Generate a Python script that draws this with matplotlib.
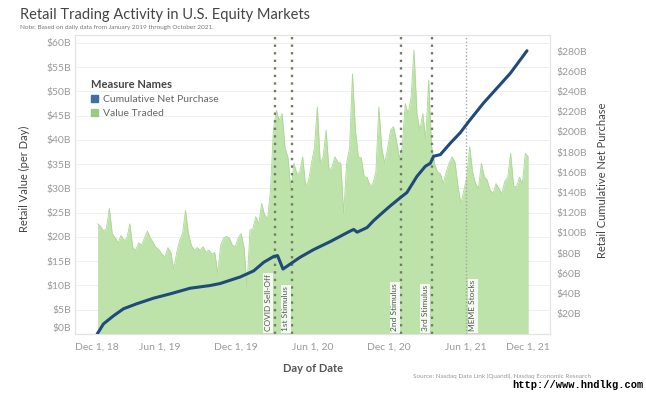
import numpy as np
import pandas as pd
import matplotlib
matplotlib.use('Agg')
import matplotlib.pyplot as plt
from matplotlib.patches import Patch
from matplotlib.transforms import ScaledTranslation

plt.rcParams['font.family'] = ['Lato', 'DejaVu Sans']

# weekly retail value traded, $B per day
value_traded = [
    22.7, 22.2, 21.2, 21.7, 25.9, 20.7, 19.8, 18.8, 20.3, 19.3,
    19.8, 22.7, 17.8, 17.3, 18.8, 18.3, 19.8, 21.2, 19.8, 18.8,
    17.8, 17.3, 16.4, 15.9, 17.8, 16.8, 13.4, 16.8, 19.3, 20.7,
    25.5, 20.7, 18.3, 17.3, 17.8, 17.3, 18.0, 16.8, 17.3, 16.4,
    16.8, 12.5, 18.3, 19.8, 20.1, 19.8, 18.3, 18.0, 19.8, 20.7,
    17.8, 9.8, 21.4, 21.7, 24.2, 22.7, 26.9, 24.6, 23.7, 29.5,
    42.0, 46.1, 44.0, 45.4, 38.3, 36.3, 29.5, 35.2, 33.0, 33.4,
    36.5, 30.5, 31.5, 35.2, 38.3, 46.8, 35.2, 36.5, 42.0, 33.7,
    34.4, 36.5, 35.4, 35.2, 24.8, 35.2, 38.3, 53.6, 42.0, 36.5,
    36.3, 32.4, 32.3, 30.5, 31.0, 33.4, 46.8, 38.3, 35.2, 38.3,
    42.0, 42.7, 39.9, 36.3, 38.6, 47.5, 45.4, 48.8, 58.5, 45.4,
    42.0, 45.4, 40.2, 52.3, 38.6, 35.2, 33.4, 33.0, 31.0, 33.4,
    35.2, 36.5, 35.4, 30.5, 26.9, 29.5, 32.3, 38.6, 33.4, 31.0,
    30.0, 35.2, 32.4, 31.7, 29.6, 29.0, 31.0, 30.0, 28.9, 31.5,
    32.3, 37.2, 30.5, 30.3, 32.3, 31.0, 37.2, 36.5,
]
weeks = pd.date_range('2019-01-04', periods=len(value_traded), freq='7D')

# cumulative net purchase, $B
cum_dates = pd.to_datetime([
    '2019-01-03', '2019-01-18', '2019-02-11', '2019-03-07', '2019-04-08',
    '2019-05-18', '2019-06-26', '2019-08-13', '2019-09-30', '2019-10-24',
    '2019-12-11', '2020-01-12', '2020-02-05', '2020-02-29', '2020-03-09',
    '2020-03-22', '2020-04-09', '2020-05-02', '2020-06-03', '2020-07-13',
    '2020-08-30', '2020-09-07', '2020-09-15', '2020-10-09', '2020-10-24',
    '2020-11-09', '2020-12-03', '2020-12-29', '2021-01-12', '2021-02-05',
    '2021-02-25', '2021-03-09', '2021-03-17', '2021-04-02', '2021-04-26',
    '2021-05-19', '2021-06-12', '2021-07-14', '2021-08-15', '2021-09-16',
    '2021-10-26',
])
cum_net = [
    0, 10, 18, 25, 30, 35.5, 39.7, 45.3, 48, 50,
    56.5, 62.5, 71, 76.8, 77.6, 64.3, 69.5, 76, 83.5, 91.5,
    102, 103.5, 100.8, 105.4, 112, 118, 126.7, 135.5, 140, 156,
    166, 169, 176, 177.6, 189, 199, 212, 228.6, 243.3, 258,
    280.4,
]

events = ['COVID Sell-Off', '1st Stimulus', '2nd Stimulus', '3rd Stimulus', 'MEME Stocks']
event_dates = pd.to_datetime(['2020-03-02', '2020-04-13', '2020-12-29', '2021-03-12', '2021-06-02'])

tick_dates = pd.to_datetime(['2018-12-01', '2019-06-01', '2019-12-01', '2020-06-01',
                             '2020-12-01', '2021-06-01', '2021-12-01'])
tick_labels = ['Dec 1, 18', 'Jun 1, 19', 'Dec 1, 19', 'Jun 1, 20',
               'Dec 1, 20', 'Jun 1, 21', 'Dec 1, 21']

left_ticks = list(range(0, 61, 5))
right_ticks = list(range(20, 281, 20))

green = '#bde2aa'
blue = '#1f4b7a'
grey_txt = '#9a9a9a'

fig = plt.figure(figsize=(6.46, 3.95), dpi=100)
ax = fig.add_axes([75 / 646, 1 - 334 / 395, 475 / 646, 299 / 395])

ax.fill_between(weeks, value_traded, 0, color=green, lw=0)
ax.plot(weeks, value_traded, color='#acd894', lw=0.6)
ax.set_xlim(pd.Timestamp('2018-11-11'), pd.Timestamp('2021-12-20'))
ax.set_ylim(0, 61.6)
ax.set_yticks(left_ticks)
ax.set_yticklabels([f'${v}B' for v in left_ticks])
ax.set_xticks(tick_dates)
ax.set_xticklabels(tick_labels)
ax.grid(axis='y', color='#efefef', lw=0.7)
ax.set_axisbelow(True)
ax.tick_params(length=0, labelsize=7.5, labelcolor=grey_txt)
ax.tick_params(axis='x', pad=6)
ax.tick_params(axis='y', pad=3)

# tableau keeps edge labels inside the pane
xl = ax.get_xticklabels()
xl[0].set_transform(xl[0].get_transform() + ScaledTranslation(14 / 100, 0, fig.dpi_scale_trans))
xl[-1].set_transform(xl[-1].get_transform() + ScaledTranslation(-14 / 100, 0, fig.dpi_scale_trans))
yl = ax.get_yticklabels()
yl[0].set_transform(yl[0].get_transform() + ScaledTranslation(0, 6 / 100, fig.dpi_scale_trans))

for name, d in zip(events, event_dates):
    if name == 'MEME Stocks':
        ax.axvline(d, color='#a8a8a8', lw=1.0, ls=(0, (1, 1.5)))
        dx = 5
    else:
        ax.axvline(d, color='#6f7d66', lw=1.7, ls=(0, (1, 2.2)))
        dx = -4.5
    ax.annotate(name, xy=(d, 0), xycoords=('data', 'axes fraction'),
                xytext=(dx, 2), textcoords='offset points', rotation=90,
                ha='center', va='bottom', fontsize=6, color='#555555',
                bbox=dict(fc='white', ec='none', alpha=0.85, pad=1))

ax2 = ax.twinx()
ax2.plot(cum_dates, cum_net, color=blue, lw=2.2, solid_capstyle='round')
ax2.set_ylim(0, 296)
ax2.set_yticks(right_ticks)
ax2.set_yticklabels([f'${v}B' for v in right_ticks])
ax2.tick_params(length=0, labelsize=7.5, labelcolor=grey_txt, pad=5)

for a in (ax, ax2):
    for s in a.spines.values():
        s.set_color('#e3e3e3')
        s.set_linewidth(0.8)
ax.spines['bottom'].set_color('#cccccc')

ax.set_ylabel('Retail Value (per Day)', fontsize=8, color='#444444')
ax.yaxis.set_label_coords(-0.095, 0.52)
ax2.set_ylabel('Retail Cumulative Net Purchase', fontsize=8, color='#444444')
ax2.yaxis.set_label_coords(1.099, 0.515)
ax.set_xlabel('Day of Date', fontsize=8, color='#555555', fontweight='bold')
ax.xaxis.set_label_coords(0.501, -0.097)

handles = [Patch(color='#3d6ea5'), Patch(color='#99cc7c')]
leg = ax2.legend(handles, ['Cumulative Net Purchase', 'Value Traded'],
                 title='Measure Names', loc='upper left',
                 bbox_to_anchor=(91 / 646, 1 - 79 / 395), bbox_transform=fig.transFigure,
                 frameon=False, fontsize=7.5, handlelength=0.7, handleheight=0.7,
                 handletextpad=0.5, labelspacing=0.45, borderpad=0, borderaxespad=0,
                 alignment='left', title_fontproperties={'size': 8, 'weight': 'bold'})
for t in leg.get_texts():
    t.set_color('#666666')
leg.get_title().set_color('#444444')

fig.text(20 / 646, 1 - 15 / 395, 'Retail Trading Activity in U.S. Equity Markets',
         fontsize=10.5, color='#444444', va='center')
fig.text(20 / 646, 1 - 28 / 395, 'Note: Based on daily data from January 2019 through October 2021.',
         fontsize=4.6, color='#777777', va='center')
fig.text(413 / 646, 1 - 376 / 395, 'Source: Nasdaq Data Link (Quandl), Nasdaq Economic Research',
         fontsize=4.6, color='#999999', va='center')
fig.text(512 / 646, 1 - 385 / 395, 'http://www.hndlkg.com', family='Liberation Mono',
         fontsize=7.5, color='black', va='center', fontweight='bold',
         bbox=dict(fc='white', ec='none', pad=0.3))

fig.savefig('out.png', dpi=100)
